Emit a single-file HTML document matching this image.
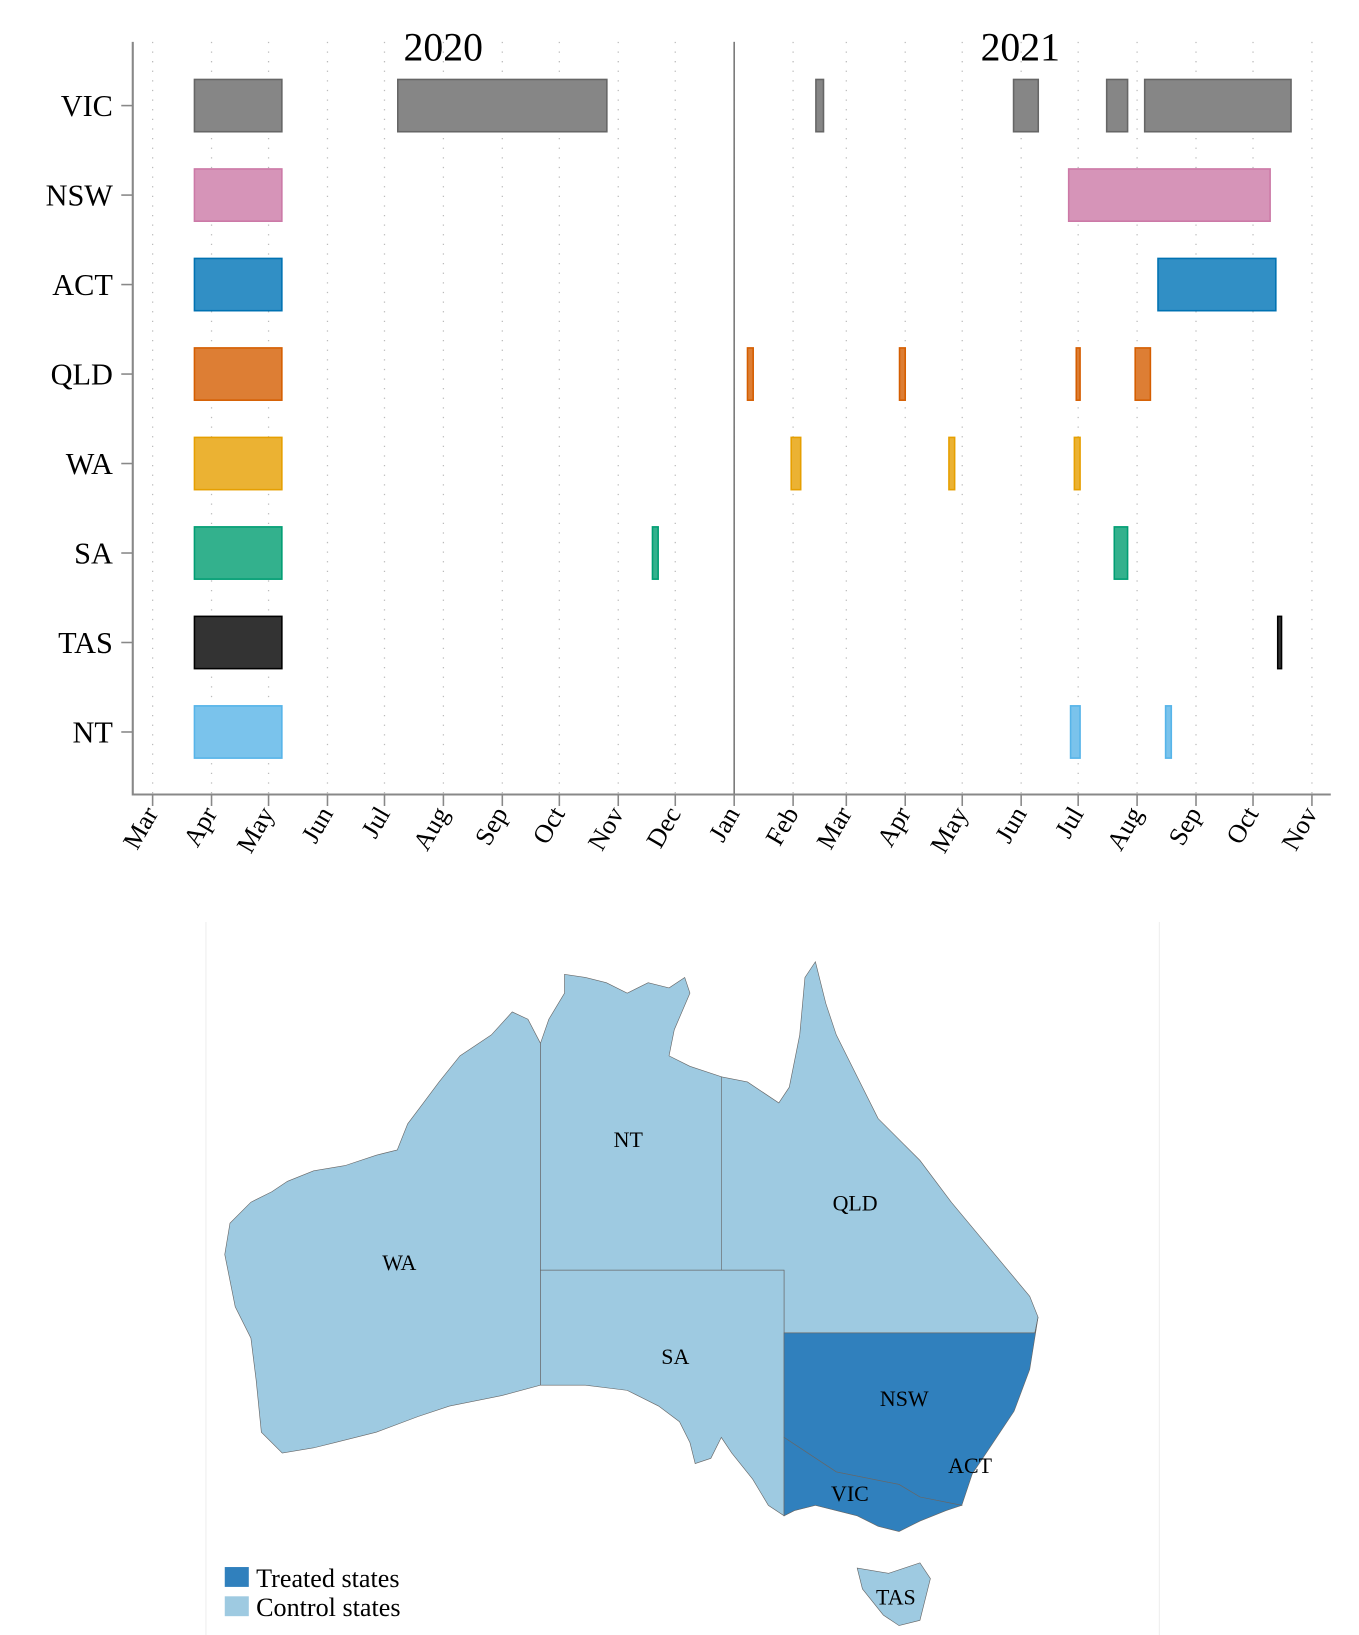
<!DOCTYPE html>
<html><head><meta charset="utf-8"><style>
html,body{margin:0;padding:0;background:#fff;width:1359px;height:1635px;overflow:hidden}
svg{display:block;font-family:"Liberation Serif",serif}
</style></head><body>
<svg id="s" width="1359" height="1635" viewBox="0 0 1300 1564">
<g id="chart"></g>
<g id="map">
<line x1="197" y1="882" x2="197" y2="1564" stroke="#eee" stroke-width="1"/>
<line x1="1109" y1="882" x2="1109" y2="1564" stroke="#eee" stroke-width="1"/>
<g stroke="#666" stroke-width="0.6">
<polygon fill="#9ecae1" points="517,998 505,975 490,968 470,990 440,1010 420,1035 405,1055 390,1075 380,1100 360,1105 330,1115 300,1120 275,1130 260,1140 240,1150 220,1170 215,1200 225,1250 240,1280 245,1320 250,1370 270,1390 300,1385 320,1380 360,1370 400,1355 430,1345 480,1335 517,1325"/>
<polygon fill="#9ecae1" points="517,998 525,975 540,950 540,932 560,935 580,940 600,950 620,940 640,945 655,935 660,950 645,985 640,1010 660,1020 690,1030 690,1215 517,1215"/>
<polygon fill="#9ecae1" points="690,1030 715,1035 730,1045 745,1055 755,1040 765,990 770,935 780,920 790,960 800,990 820,1030 840,1070 880,1110 910,1150 935,1180 960,1210 985,1240 993,1260 990,1275 750,1275 750,1215 690,1215"/>
<polygon fill="#9ecae1" points="517,1215 750,1215 750,1450 735,1440 720,1415 700,1390 690,1375 680,1395 665,1400 660,1380 650,1360 630,1345 600,1330 560,1325 517,1325"/>
<polygon fill="#3080bd" points="750,1275 990,1275 993,1260 985,1310 970,1350 950,1380 930,1410 920,1440 880,1432 860,1420 800,1408 750,1375"/>
<polygon fill="#3080bd" points="750,1375 800,1408 860,1420 880,1432 920,1440 905,1445 880,1455 860,1465 840,1460 820,1450 800,1445 780,1440 760,1445 750,1450"/>
<polygon fill="#9ecae1" points="820,1500 850,1505 880,1495 890,1510 880,1550 860,1555 845,1545 825,1520"/>
</g>
<g font-size="21" text-anchor="middle" fill="#000">
<text x="601" y="1097">NT</text>
<text x="382" y="1215">WA</text>
<text x="818" y="1158">QLD</text>
<text x="646" y="1305">SA</text>
<text x="865" y="1345">NSW</text>
<text x="928" y="1409">ACT</text>
<text x="813" y="1436">VIC</text>
<text x="857" y="1535">TAS</text>
</g>
<g>
<rect x="215" y="1499" width="23" height="19" fill="#3080bd"/>
<text x="245" y="1518" font-size="25">Treated states</text>
<rect x="215" y="1527" width="23" height="19" fill="#9ecae1"/>
<text x="245" y="1546" font-size="25">Control states</text>
</g>
</g>
</svg>
<script>
const states = ["VIC","NSW","ACT","QLD","WA","SA","TAS","NT"];
const monthLabels = ["Mar","Apr","May","Jun","Jul","Aug","Sep","Oct","Nov","Dec","Jan","Feb","Mar","Apr","May","Jun","Jul","Aug","Sep","Oct","Nov"];
const monthStarts = ["2020-03-01","2020-04-01","2020-05-01","2020-06-01","2020-07-01","2020-08-01","2020-09-01","2020-10-01","2020-11-01","2020-12-01","2021-01-01","2021-02-01","2021-03-01","2021-04-01","2021-05-01","2021-06-01","2021-07-01","2021-08-01","2021-09-01","2021-10-01","2021-11-01"];
const lockStart = ["2020-03-23","2020-07-08","2021-02-13","2021-05-28","2021-07-16","2021-08-05", "2020-03-23","2021-06-26", "2020-03-23","2021-08-12", "2020-03-23","2021-01-08","2021-03-29","2021-06-30","2021-07-31", "2020-03-23","2021-01-31","2021-04-24","2021-06-29", "2020-03-23","2020-11-19","2021-07-20", "2020-03-23","2021-10-14", "2020-03-23","2021-06-27","2021-08-16"];
const lockEnd   = ["2020-05-08","2020-10-26","2021-02-17","2021-06-10","2021-07-27","2021-10-21", "2020-05-08","2021-10-10", "2020-05-08","2021-10-13", "2020-05-08","2021-01-11","2021-04-01","2021-07-02","2021-08-08", "2020-05-08","2021-02-05","2021-04-27","2021-07-02", "2020-05-08","2020-11-22","2021-07-27", "2020-05-08","2021-10-16", "2020-05-08","2021-07-02","2021-08-19"];
const lockState = ["VIC","VIC","VIC","VIC","VIC","VIC", "NSW","NSW", "ACT","ACT", "QLD","QLD","QLD","QLD","QLD", "WA","WA","WA","WA", "SA","SA","SA", "TAS","TAS", "NT","NT","NT"];

const fills={VIC:"#868686",NSW:"#d694b8",ACT:"#318fc5",QLD:"#dd7e34",WA:"#ebb233",SA:"#33b18d",TAS:"#333333",NT:"#7ac3ec"};
const strokes={VIC:"#666",NSW:"#cc79a7",ACT:"#0072b2",QLD:"#d55e00",WA:"#e69f00",SA:"#009e73",TAS:"#000",NT:"#56b4e9"};
const NS="http://www.w3.org/2000/svg";
const g=document.getElementById('chart');
const t0=Date.UTC(2020,2,1);
function day(s){const p=s.split('-');return (Date.UTC(+p[0],+p[1]-1,+p[2])-t0)/86400000;}
function xs(s){return 146+day(s)*1.818;}
function ys(st){return 101+states.indexOf(st)*85.6;}
function el(tag,attrs,parent){const e=document.createElementNS(NS,tag);for(const k in attrs)e.setAttribute(k,attrs[k]);(parent||g).appendChild(e);return e;}
monthStarts.forEach((m,i)=>{
  const x=xs(m);
  const l=el('line',{x1:x,y1:40,x2:x,y2:760,stroke:'#bbb','stroke-width':1.2,'stroke-dasharray':'1.2 8'});
  
  
  const tk=el('line',{x1:x,y1:760,x2:x,y2:771,stroke:'#888','stroke-width':1.5});
  
  
  const tx=el('text',{x:x+6,y:778,'font-size':25,'text-anchor':'end',transform:`rotate(-60 ${x+6} 778)`});
  tx.textContent=monthLabels[i];
  
  
});
const yd=el('line',{x1:xs("2021-01-01"),y1:40,x2:xs("2021-01-01"),y2:760,stroke:'#777','stroke-width':1.5});


const ax=el('path',{d:'M127,40 V760 H1273',fill:'none',stroke:'#888','stroke-width':2});


const y1=el('text',{x:424,y:58,'font-size':38,'text-anchor':'middle'});y1.textContent='2020';


const y2=el('text',{x:976,y:58,'font-size':38,'text-anchor':'middle'});y2.textContent='2021';


states.forEach(st=>{
  const y=ys(st);
  const tk=el('line',{x1:116,y1:y,x2:127,y2:y,stroke:'#888','stroke-width':1.5});
  
  
  const t=el('text',{x:108,y:y+10,'font-size':29,'text-anchor':'end'});t.textContent=st;
  
  
});
lockStart.forEach((s,i)=>{
  const st=lockState[i];const x0=xs(s),x1=xs(lockEnd[i]);
  const r=el('rect',{x:x0,y:ys(st)-25,width:Math.max(3,x1-x0),height:50,fill:fills[st],stroke:strokes[st],'stroke-width':1.5});
  
  
});
</script>
</body></html>
